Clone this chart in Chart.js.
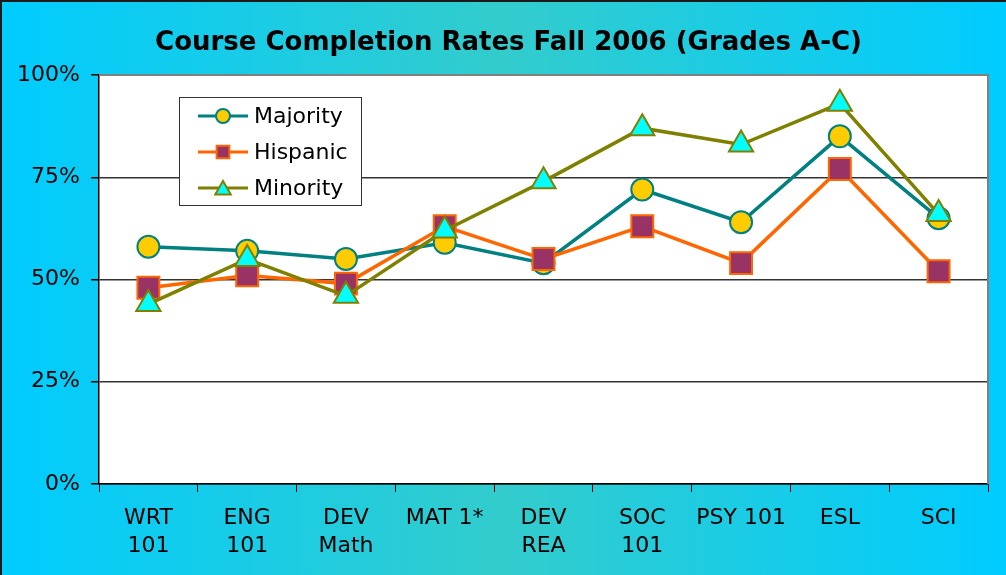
<!DOCTYPE html>
<html>
<head>
<meta charset="utf-8">
<script src="https://cdn.jsdelivr.net/npm/chart.js@4.4.1/dist/chart.umd.min.js"></script>
<style>
  html, body { margin: 0; padding: 0; background: #00ccff; }
  #wrap { width: 1006px; height: 575px; }
</style>
</head>
<body>
<div id="wrap"><canvas id="completionChart" width="1006" height="575"></canvas></div>
<script>
// chart data
const categories = [['WRT', '101'], ['ENG', '101'], ['DEV', 'Math'], 'MAT 1*', ['DEV', 'REA'], ['SOC', '101'], 'PSY 101', 'ESL', 'SCI'];
const majority = [58, 57, 55, 59, 54, 72, 64, 85, 65];
const hispanic = [48, 51, 49, 63, 55, 63, 54, 77, 52];
const minority = [44, 55, 46, 62, 74, 87, 83, 93, 66];
const yTicks = [0, 25, 50, 75, 100];

const fontFamily = '"DejaVu Sans", Verdana, sans-serif';

// gradient background + white plot area
const backgroundPlugin = {
    id: 'backgroundPlugin',
    afterLayout(chart) {
        // shift the title a bit right so it sits centred like the original
        if (chart.titleBlock) {
            chart.titleBlock.left = 29;
        }
    },
    beforeDraw(chart) {
        const ctx = chart.ctx;
        const w = chart.width, h = chart.height;
        const grad = ctx.createLinearGradient(0, 0, w, 0);
        grad.addColorStop(0, '#00ccff');
        grad.addColorStop(0.5, '#33cccc');
        grad.addColorStop(1, '#00ccff');
        ctx.save();
        ctx.fillStyle = grad;
        ctx.fillRect(0, 0, w, h);
        // outer frame (top and left edges visible)
        ctx.fillStyle = '#1a1a1a';
        ctx.fillRect(0, 0, w, 2);
        ctx.fillRect(0, 0, 2, h);
        const a = chart.chartArea;
        ctx.fillStyle = '#ffffff';
        ctx.fillRect(a.left, a.top, a.right - a.left, a.bottom - a.top);
        ctx.restore();
    },
    afterDraw(chart) {
        // grey top/right border of the plot area
        const ctx = chart.ctx;
        const a = chart.chartArea;
        ctx.save();
        ctx.strokeStyle = '#808080';
        ctx.lineWidth = 2;
        ctx.beginPath();
        ctx.moveTo(a.left, a.top);
        ctx.lineTo(a.right, a.top);
        ctx.lineTo(a.right, a.bottom);
        ctx.stroke();
        ctx.restore();
    }
};

// legend box drawn inside the plot
const legendMarkerSize = { circle: 7, rect: 9, triangle: 9 };
const innerLegend = {
    id: 'innerLegend',
    afterDraw(chart) {
        const ctx = chart.ctx;
        const box = { x: 179.5, y: 97.5, w: 182, h: 108 };
        ctx.save();
        ctx.fillStyle = '#ffffff';
        ctx.strokeStyle = '#333333';
        ctx.lineWidth = 1;
        ctx.fillRect(box.x, box.y, box.w, box.h);
        ctx.strokeRect(box.x, box.y, box.w, box.h);

        chart.data.datasets.forEach((ds, i) => {
            const y = 116 + i * 36;
            ctx.strokeStyle = ds.borderColor;
            ctx.lineWidth = 3;
            ctx.beginPath();
            ctx.moveTo(198, y);
            ctx.lineTo(248, y);
            ctx.stroke();
            ctx.fillStyle = ds.pointBackgroundColor;
            ctx.strokeStyle = ds.pointBorderColor;
            ctx.lineWidth = ds.pointBorderWidth;
            Chart.helpers.drawPoint(ctx, {
                pointStyle: ds.pointStyle,
                radius: legendMarkerSize[ds.pointStyle],
                borderWidth: ds.pointBorderWidth,
                rotation: 0
            }, 223, ds.pointStyle === 'triangle' ? y + 2 : y);
            ctx.fillStyle = '#000000';
            ctx.font = '22px ' + fontFamily;
            ctx.textBaseline = 'middle';
            ctx.textAlign = 'left';
            ctx.fillText(ds.label, 254, y + 1);
        });
        ctx.restore();
    }
};

const ctx = document.getElementById('completionChart').getContext('2d');

const myChart = new Chart(ctx, {
    type: 'line',
    data: {
        labels: categories,
        datasets: [{
            label: 'Majority',
            data: majority,
            borderColor: '#008080',
            borderWidth: 3.5,
            pointStyle: 'circle',
            pointRadius: 11,
            pointBackgroundColor: '#ffcc00',
            pointBorderColor: '#008080',
            pointBorderWidth: 2,
            order: 3
        }, {
            label: 'Hispanic',
            data: hispanic,
            borderColor: '#ff6600',
            borderWidth: 3.5,
            pointStyle: 'rect',
            pointRadius: 15.5,
            pointBackgroundColor: '#993366',
            pointBorderColor: '#ff6600',
            pointBorderWidth: 2,
            order: 2
        }, {
            label: 'Minority',
            data: minority,
            borderColor: '#808000',
            borderWidth: 3.5,
            pointStyle: 'triangle',
            pointRadius: 14,
            pointBackgroundColor: '#00ffff',
            pointBorderColor: '#808000',
            pointBorderWidth: 2,
            order: 1
        }]
    },
    options: {
        responsive: false,
        animation: false,
        layout: {
            padding: { left: 0, right: 18, top: 0, bottom: 0 }
        },
        plugins: {
            legend: { display: false },
            tooltip: { enabled: false },
            title: {
                display: true,
                text: 'Course Completion Rates Fall 2006 (Grades A-C)',
                color: '#000000',
                font: { family: fontFamily, size: 26, weight: 'bold', lineHeight: 1.2 },
                padding: { top: 28, bottom: 15.8 }
            }
        },
        scales: {
            x: {
                offset: true,
                grid: {
                    offset: true,
                    drawOnChartArea: false,
                    drawTicks: true,
                    tickLength: 8,
                    tickColor: '#000000',
                    color: '#000000'
                },
                border: { display: true, color: '#000000', width: 1.5 },
                ticks: {
                    color: '#000000',
                    padding: 12,
                    maxRotation: 0,
                    autoSkip: false,
                    font: { family: fontFamily, size: 22, lineHeight: 1.27 }
                },
                afterFit(scale) {
                    scale.height = 91;
                }
            },
            y: {
                min: 0,
                max: 100,
                afterBuildTicks(scale) {
                    scale.ticks = yTicks.map(v => ({ value: v }));
                },
                grid: {
                    color: '#333333',
                    lineWidth: 1.5,
                    tickLength: 8,
                    tickColor: '#000000'
                },
                border: { display: true, color: '#000000', width: 1.5 },
                ticks: {
                    color: '#000000',
                    padding: 11,
                    font: { family: fontFamily, size: 22 },
                    callback: (v) => v + '%'
                },
                afterFit(scale) {
                    scale.width = 99;
                }
            }
        }
    },
    plugins: [backgroundPlugin, innerLegend]
});
</script>
</body>
</html>
